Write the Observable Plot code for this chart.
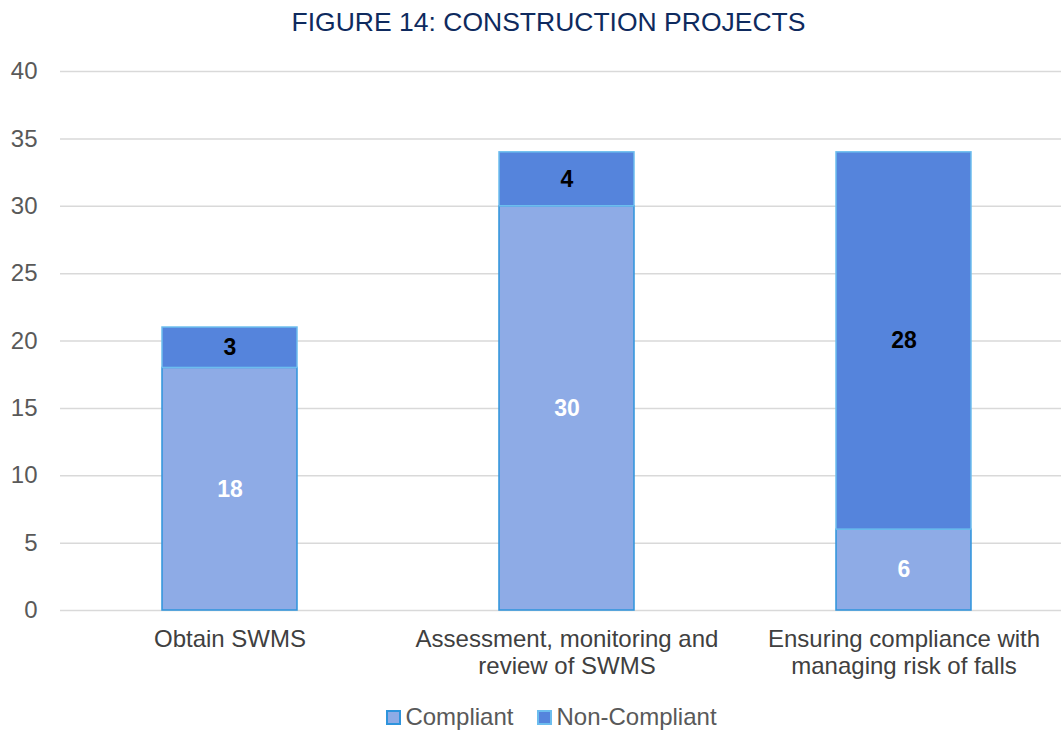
<!DOCTYPE html>
<html>
<head>
<meta charset="utf-8">
<script src="https://cdn.jsdelivr.net/npm/d3@7"></script>
<script src="https://cdn.jsdelivr.net/npm/@observablehq/plot@0.6"></script>
<style>
  body { margin: 0; background: #fff; font-family: "Liberation Sans", Arial, sans-serif; }
  #title { height: 44px; line-height: 44px; text-align: center; font-size: 26.5px; color: #0e2a5e; padding-left: 36px; }
  #legend { height: 44px; display: flex; justify-content: center; align-items: center; font-size: 24px; color: #595959; padding-left: 42px; }
  .item { display: flex; align-items: center; margin: 0 12px; }
  .sw { width: 11px; height: 11px; margin-right: 4px; border: 2px solid; }
</style>
</head>
<body>
<div id="title">FIGURE 14: CONSTRUCTION PROJECTS</div>
<div id="chart"></div>
<div id="legend"></div>
<script>
const categories = ["Obtain SWMS", "Assessment, monitoring and\nreview of SWMS", "Ensuring compliance with\nmanaging risk of falls"];
const compliant = [18, 30, 6];
const nonCompliant = [3, 4, 28];
const seriesNames = ["Compliant", "Non-Compliant"];
const fills = ["#8eabe6", "#5584dc"];
const strokes = ["#2e94dc", "#6cbdee"];
const yTicks = [0, 5, 10, 15, 20, 25, 30, 35, 40];

const table = [];
categories.forEach((c, i) => {
  table.push({cat: c, status: seriesNames[0], value: compliant[i]});
  table.push({cat: c, status: seriesNames[1], value: nonCompliant[i]});
});

const plot = Plot.plot({
  width: 1061,
  height: 651,
  marginLeft: 60,
  marginRight: 0,
  marginTop: 27,
  marginBottom: 85,
  style: {fontFamily: "Liberation Sans, Arial, sans-serif", background: "#fff"},
  x: {domain: categories, range: [60, 1072], paddingInner: 0.6, paddingOuter: 0.3, label: null},
  y: {domain: [0, 40], ticks: yTicks, label: null},
  color: {domain: seriesNames, range: fills},
  marks: [
    Plot.ruleY(yTicks, {stroke: "#d9d9d9", strokeWidth: 1.5}),
    Plot.barY(table, Plot.stackY({
      x: "cat", y: "value", fill: "status",
      stroke: d => d.status === seriesNames[0] ? strokes[0] : strokes[1],
      strokeWidth: 1.5
    })),
    Plot.text(table, Plot.stackY({
      x: "cat", y: "value", text: "value",
      fill: d => d.status === seriesNames[0] ? "#ffffff" : "#000000",
      fontSize: 23, fontWeight: "bold"
    })),
    Plot.axisY({ticks: yTicks, tickSize: 0, tickPadding: 23, fontSize: 24, fill: "#595959", label: null}),
    Plot.axisX({tickSize: 0, tickPadding: 18, fontSize: 24, fill: "#404040", lineHeight: 1.1, label: null})
  ]
});
document.getElementById("chart").appendChild(plot);

const legend = document.getElementById("legend");
seriesNames.forEach((s, i) => {
  const item = document.createElement("div");
  item.className = "item";
  const sw = document.createElement("span");
  sw.className = "sw";
  sw.style.background = fills[i];
  sw.style.borderColor = strokes[i];
  const t = document.createElement("span");
  t.textContent = s;
  item.appendChild(sw); item.appendChild(t);
  legend.appendChild(item);
});
</script>
</body>
</html>
